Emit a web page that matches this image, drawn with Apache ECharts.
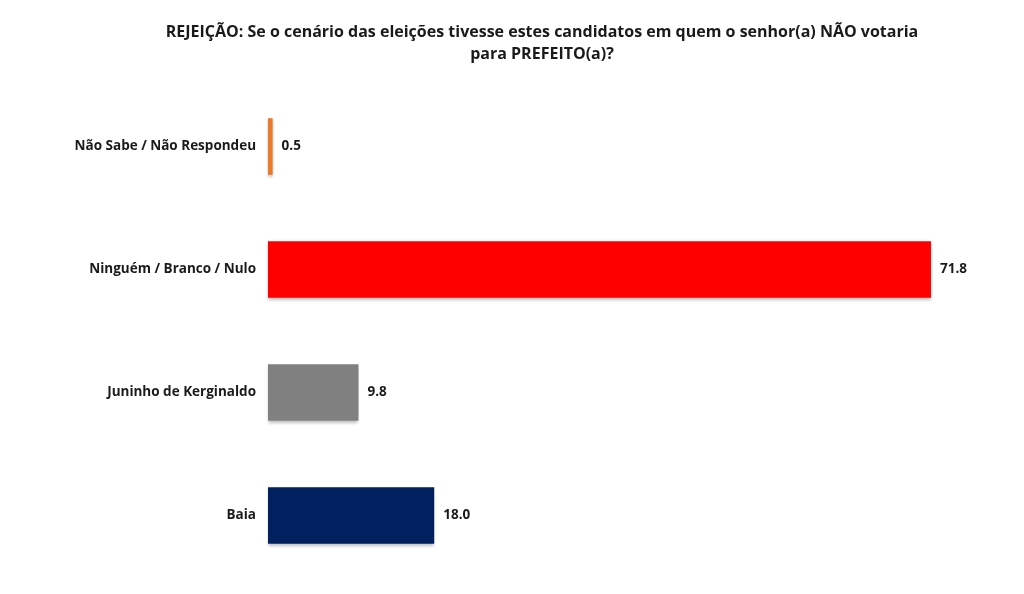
<!DOCTYPE html>
<html><head><meta charset="utf-8">
<script src="https://cdn.jsdelivr.net/npm/echarts@6/dist/echarts.min.js"></script>
<style>html,body{margin:0;padding:0;background:#fff}#c{width:1024px;height:594px}</style>
</head><body><div id="c"></div>
<script>
const categories = ['Não Sabe / Não Respondeu', 'Ninguém / Branco / Nulo', 'Juninho de Kerginaldo', 'Baia'];
const values = [0.5, 71.8, 9.8, 18.0];
const colors = ['#E87A2A', '#FF0000', '#808080', '#002060'];
const titleText = 'REJEIÇÃO: Se o cenário das eleições tivesse estes candidatos em quem o senhor(a) NÃO votaria\npara PREFEITO(a)?';
const FONT = '"Open Sans", sans-serif';

const chart = echarts.init(document.getElementById('c'));
chart.setOption({
  animation: false,
  title: {
    text: titleText, left: 537, top: 16, textAlign: 'center',
    textStyle: {fontFamily: FONT, fontSize: 16, fontWeight: 'bold', color: '#1a1a1a', lineHeight: 22}
  },
  grid: {left: 268, top: 85, width: 738.7, height: 492},
  xAxis: {type: 'value', min: 0, max: 80, show: false},
  yAxis: {
    type: 'category', data: categories, inverse: true,
    axisLine: {show: false}, axisTick: {show: false},
    axisLabel: {margin: 12, fontFamily: FONT, fontSize: 13.5, fontWeight: 'bold', color: '#1a1a1a'}
  },
  series: [{
    type: 'bar', barCategoryGap: '54%',
    data: values.map((v, i) => ({value: v, itemStyle: {color: colors[i]}})),
    itemStyle: {shadowColor: 'rgba(0,0,0,0.25)', shadowBlur: 3, shadowOffsetY: 2},
    label: {show: true, position: 'right', distance: 9, fontFamily: FONT, fontSize: 13.5, fontWeight: 'bold', color: '#1a1a1a',
      formatter: p => p.value.toFixed(1)}
  }]
});
</script></body></html>
